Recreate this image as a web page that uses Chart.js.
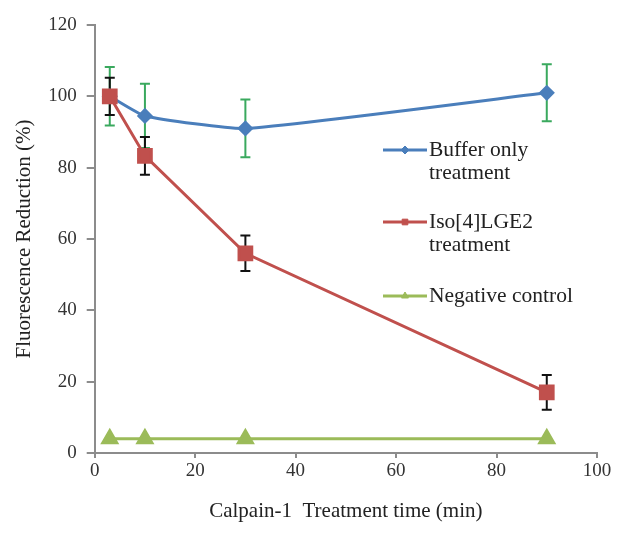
<!DOCTYPE html>
<html>
<head>
<meta charset="utf-8">
<script src="https://cdn.jsdelivr.net/npm/chart.js@4"></script>
<style>
  html, body { margin: 0; padding: 0; background: #fff; }
  #wrap { width: 628px; height: 541px; }
</style>
</head>
<body>
<div id="wrap"><canvas id="calpain" width="628" height="541"></canvas></div>
<script>
// time points (min)
const times = [3, 10, 30, 90];

// Buffer only treatment
const buffer = [100, 94.5, 91, 101];
const bufferErr = [8.2, 9, 8.1, 8];

// Iso[4]LGE2 treatment
const iso = [100, 83.3, 56, 17];
const isoErr = [5.2, 5.3, 5, 4.9];

// Negative control
const negative = [4, 4, 4, 4];

const xTicks = [0, 20, 40, 60, 80, 100];
const yTicks = [0, 20, 40, 60, 80, 100, 120];

const serif = "'Liberation Serif', 'DejaVu Serif', serif";
const axisGrey = '#8c8c8c';

function pts(vals) {
    return times.map((t, i) => ({ x: t, y: vals[i] }));
}

// draw vertical error bars with caps
const errorBars = {
    id: 'errorBars',
    beforeDatasetsDraw(chart) {
        const ctx = chart.ctx;
        const xs = chart.scales.x, ys = chart.scales.y;
        chart.data.datasets.forEach(ds => {
            if (!ds.errors) return;
            ctx.save();
            ctx.strokeStyle = ds.errorColor;
            ctx.lineWidth = 2;
            ds.data.forEach((p, i) => {
                const e = ds.errors[i];
                const px = xs.getPixelForValue(p.x);
                const top = ys.getPixelForValue(p.y + e);
                const bot = ys.getPixelForValue(p.y - e);
                ctx.beginPath();
                ctx.moveTo(px, top); ctx.lineTo(px, bot);
                ctx.moveTo(px - 5, top); ctx.lineTo(px + 5, top);
                ctx.moveTo(px - 5, bot); ctx.lineTo(px + 5, bot);
                ctx.stroke();
            });
            ctx.restore();
        });
    }
};

// legend drawn inside the plot, like the original
const insideLegend = {
    id: 'insideLegend',
    afterDraw(chart) {
        const ctx = chart.ctx;
        const items = [
            { ds: chart.data.datasets[0], lines: ['Buffer only', 'treatment'], y: 150 },
            { ds: chart.data.datasets[1], lines: ['Iso[4]LGE2', 'treatment'], y: 222 },
            { ds: chart.data.datasets[2], lines: ['Negative control'], y: 296 }
        ];
        ctx.save();
        items.forEach(it => {
            const ds = it.ds;
            ctx.strokeStyle = ds.borderColor;
            ctx.lineWidth = 3;
            ctx.beginPath();
            ctx.moveTo(383, it.y); ctx.lineTo(427, it.y);
            ctx.stroke();
            ctx.fillStyle = ds.pointBackgroundColor;
            ctx.strokeStyle = ds.pointBorderColor;
            ctx.lineWidth = 1;
            Chart.helpers.drawPoint(ctx, {
                pointStyle: ds.pointStyle,
                radius: 4,
                borderWidth: 1
            }, 405, it.y);
            ctx.fillStyle = '#222';
            ctx.font = '21.5px ' + serif;
            ctx.textBaseline = 'middle';
            ctx.textAlign = 'left';
            it.lines.forEach((ln, j) => ctx.fillText(ln, 429, it.y + j * 23));
        });
        ctx.restore();
    }
};

const ctx = document.getElementById('calpain').getContext('2d');
const chart = new Chart(ctx, {
    type: 'line',
    data: {
        datasets: [{
            label: 'Buffer only treatment',
            data: pts(buffer),
            errors: bufferErr,
            errorColor: '#3aa95e',
            borderColor: '#4a7ebb',
            backgroundColor: '#4a7ebb',
            pointBackgroundColor: '#4a7ebb',
            pointBorderColor: '#4a7ebb',
            pointStyle: 'rectRot',
            pointRadius: 6,
            borderWidth: 3,
            tension: 0.15,
            order: 2
        }, {
            label: 'Iso[4]LGE2 treatment',
            data: pts(iso),
            errors: isoErr,
            errorColor: '#111',
            borderColor: '#c0504d',
            backgroundColor: '#c0504d',
            pointBackgroundColor: '#c0504d',
            pointBorderColor: '#c0504d',
            pointStyle: 'rect',
            pointRadius: 9,
            borderWidth: 3,
            tension: 0,
            order: 1
        }, {
            label: 'Negative control',
            data: pts(negative),
            borderColor: '#9bbb59',
            backgroundColor: '#9bbb59',
            pointBackgroundColor: '#9bbb59',
            pointBorderColor: '#9bbb59',
            pointStyle: 'triangle',
            pointRadius: 8,
            borderWidth: 3,
            tension: 0,
            order: 0
        }]
    },
    options: {
        responsive: false,
        animation: false,
        layout: { padding: { top: 25, right: 31, bottom: 13, left: 8 } },
        plugins: {
            legend: { display: false },
            tooltip: { enabled: false }
        },
        scales: {
            x: {
                type: 'linear',
                min: 0, max: 100,
                afterBuildTicks: axis => { axis.ticks = xTicks.map(v => ({ value: v })); },
                grid: { display: true, drawOnChartArea: false, drawTicks: true, tickLength: 5, color: axisGrey, lineWidth: 2 },
                border: { color: axisGrey, width: 2 },
                ticks: { color: '#333', font: { family: serif, size: 19 }, padding: 2, maxRotation: 0 },
                title: {
                    display: true,
                    text: 'Calpain-1  Treatment time (min)',
                    color: '#222',
                    font: { family: serif, size: 21 },
                    padding: { top: 14 }
                }
            },
            y: {
                min: 0, max: 120,
                afterBuildTicks: axis => { axis.ticks = yTicks.map(v => ({ value: v })); },
                grid: { display: true, drawOnChartArea: false, drawTicks: true, tickLength: 8, color: axisGrey, lineWidth: 2 },
                border: { color: axisGrey, width: 2 },
                ticks: { color: '#333', font: { family: serif, size: 19 }, padding: 10 },
                title: {
                    display: true,
                    text: 'Fluorescence Reduction (%)',
                    color: '#222',
                    font: { family: serif, size: 21 },
                    padding: { top: 4, bottom: 1 }
                }
            }
        }
    },
    plugins: [errorBars, insideLegend]
});
</script>
</body>
</html>
